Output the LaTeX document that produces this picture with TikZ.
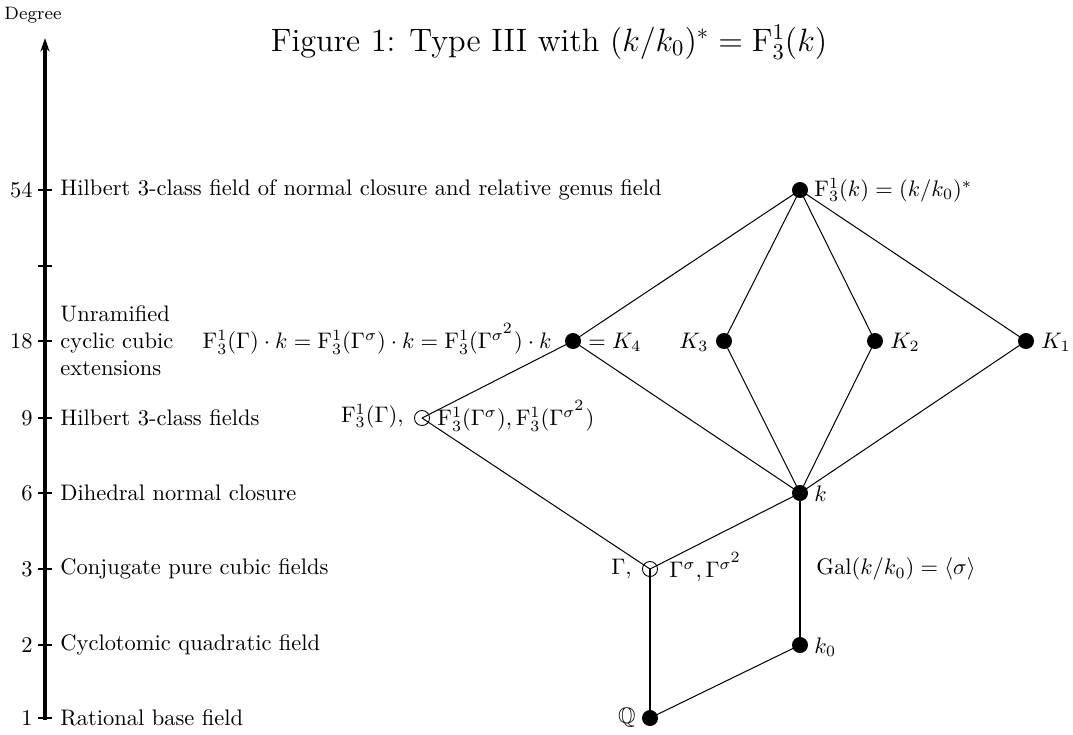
\documentclass[tikz,border=0pt]{standalone}
\usepackage{amssymb}
\usetikzlibrary{arrows.meta}
\newcommand{\sqs}{\sigma^{\scriptstyle 2}}
\begin{document}
\begin{tikzpicture}[x=0.445pt,y=-0.445pt,
  full/.style={circle,fill=black,draw=black,inner sep=0pt,minimum size=6.7pt},
  open/.style={circle,draw=black,fill=none,inner sep=0pt,minimum size=6.7pt},
  thinedge/.style={line width=0.45pt},
  thickedge/.style={line width=0.9pt},
  axislab/.style={anchor=west,inner sep=0pt,align=left},
  ticklab/.style={anchor=east,inner sep=0pt},
  tick/.style={line width=1.3pt}]
\useasboundingbox (0,0) rectangle (1073,734);
% title
\node (title) at (549,42) {\Large Figure 1: Type III with $(k/k_0)^*=\mathrm{F}^1_3(k)$};
\node (deg) at (33,15) {\footnotesize Degree};
% axis
\coordinate (abot) at (45,720);
\coordinate (atop) at (45,38);
\draw[line width=1.4pt,-{Stealth[length=6pt,width=4pt]}] (abot) -- (atop);
\foreach \yy/\lab in {718/1,645/2,569/3,493/6,418/9,341/18,266/{},190/54}{
  \draw[tick] (38,\yy) -- (52,\yy);
  \node[ticklab] at (33,\yy) {\lab};
}
\node[axislab] (l54) at (60,190) {Hilbert 3-class field of normal closure and relative genus field};
\node[axislab] (l18) at (60,341) {Unramified\\cyclic cubic\\extensions};
\node[axislab] (l9) at (60,418) {Hilbert 3-class fields};
\node[axislab] (l6) at (60,493) {Dihedral normal closure};
\node[axislab] (l3) at (60,569) {Conjugate pure cubic fields};
\node[axislab] (l2) at (60,645) {Cyclotomic quadratic field};
\node[axislab] (l1) at (60,718) {Rational base field};
% nodes
\node[full] (Q) at (650,718) {};
\node[open] (G) at (650,569) {};
\node[full] (k0) at (800,645) {};
\node[full] (k) at (800,493) {};
\node[open] (FG) at (422,418) {};
\node[full] (K4) at (573,341) {};
\node[full] (K3) at (724,341) {};
\node[full] (K2) at (875,341) {};
\node[full] (K1) at (1026,341) {};
\node[full] (T) at (800,190) {};
% edges
\draw[thickedge] (Q.center) -- (G.center);
\draw[thickedge] (k0.center) -- (k.center);
\draw[thinedge] (Q.center) -- (k0.center);
\draw[thinedge] (G.center) -- (k.center);
\draw[thinedge] (G.center) -- (FG.center);
\draw[thinedge] (FG.center) -- (K4.center);
\foreach \n in {K4,K3,K2,K1}{
  \draw[thinedge] (\n.center) -- (k.center);
  \draw[thinedge] (\n.center) -- (T.center);
}
% labels
\node[anchor=east,inner sep=0pt] (lQ) at (636,718) {$\mathbb{Q}$};
\node[anchor=east,inner sep=0pt] (lG) at (632,569) {$\Gamma,$};
\node[anchor=west,inner sep=0pt] (lGs) at (669,567) {$\Gamma^\sigma,\Gamma^{\sqs}$};
\node[anchor=west,inner sep=0pt] (lgal) at (816,569) {$\mathrm{Gal}(k/k_0)=\langle\sigma\rangle$};
\node[anchor=west,inner sep=0pt] (lk0) at (814,647) {$k_0$};
\node[anchor=west,inner sep=0pt] (lk) at (814,494) {$k$};
\node[anchor=east,inner sep=0pt] (lFG) at (404,416) {$\mathrm{F}^1_3(\Gamma),$};
\node[anchor=west,inner sep=0pt] (lFGs) at (437,416) {$\mathrm{F}^1_3(\Gamma^\sigma),\mathrm{F}^1_3(\Gamma^{\sqs})$};
\node[anchor=east,inner sep=0pt] (lK4l) at (552,339) {$\mathrm{F}^1_3(\Gamma)\cdot k=\mathrm{F}^1_3(\Gamma^\sigma)\cdot k=\mathrm{F}^1_3(\Gamma^{\sqs})\cdot k$};
\node[anchor=west,inner sep=0pt] (lK4r) at (588,342) {$=K_4$};
\node[anchor=east,inner sep=0pt] (lK3) at (709,342) {$K_3$};
\node[anchor=west,inner sep=0pt] (lK2) at (890,342) {$K_2$};
\node[anchor=west,inner sep=0pt] (lK1) at (1041,342) {$K_1$};
\node[anchor=west,inner sep=0pt] (lT) at (814,190) {$\mathrm{F}^1_3(k)=(k/k_0)^*$};
\end{tikzpicture}
\end{document}
